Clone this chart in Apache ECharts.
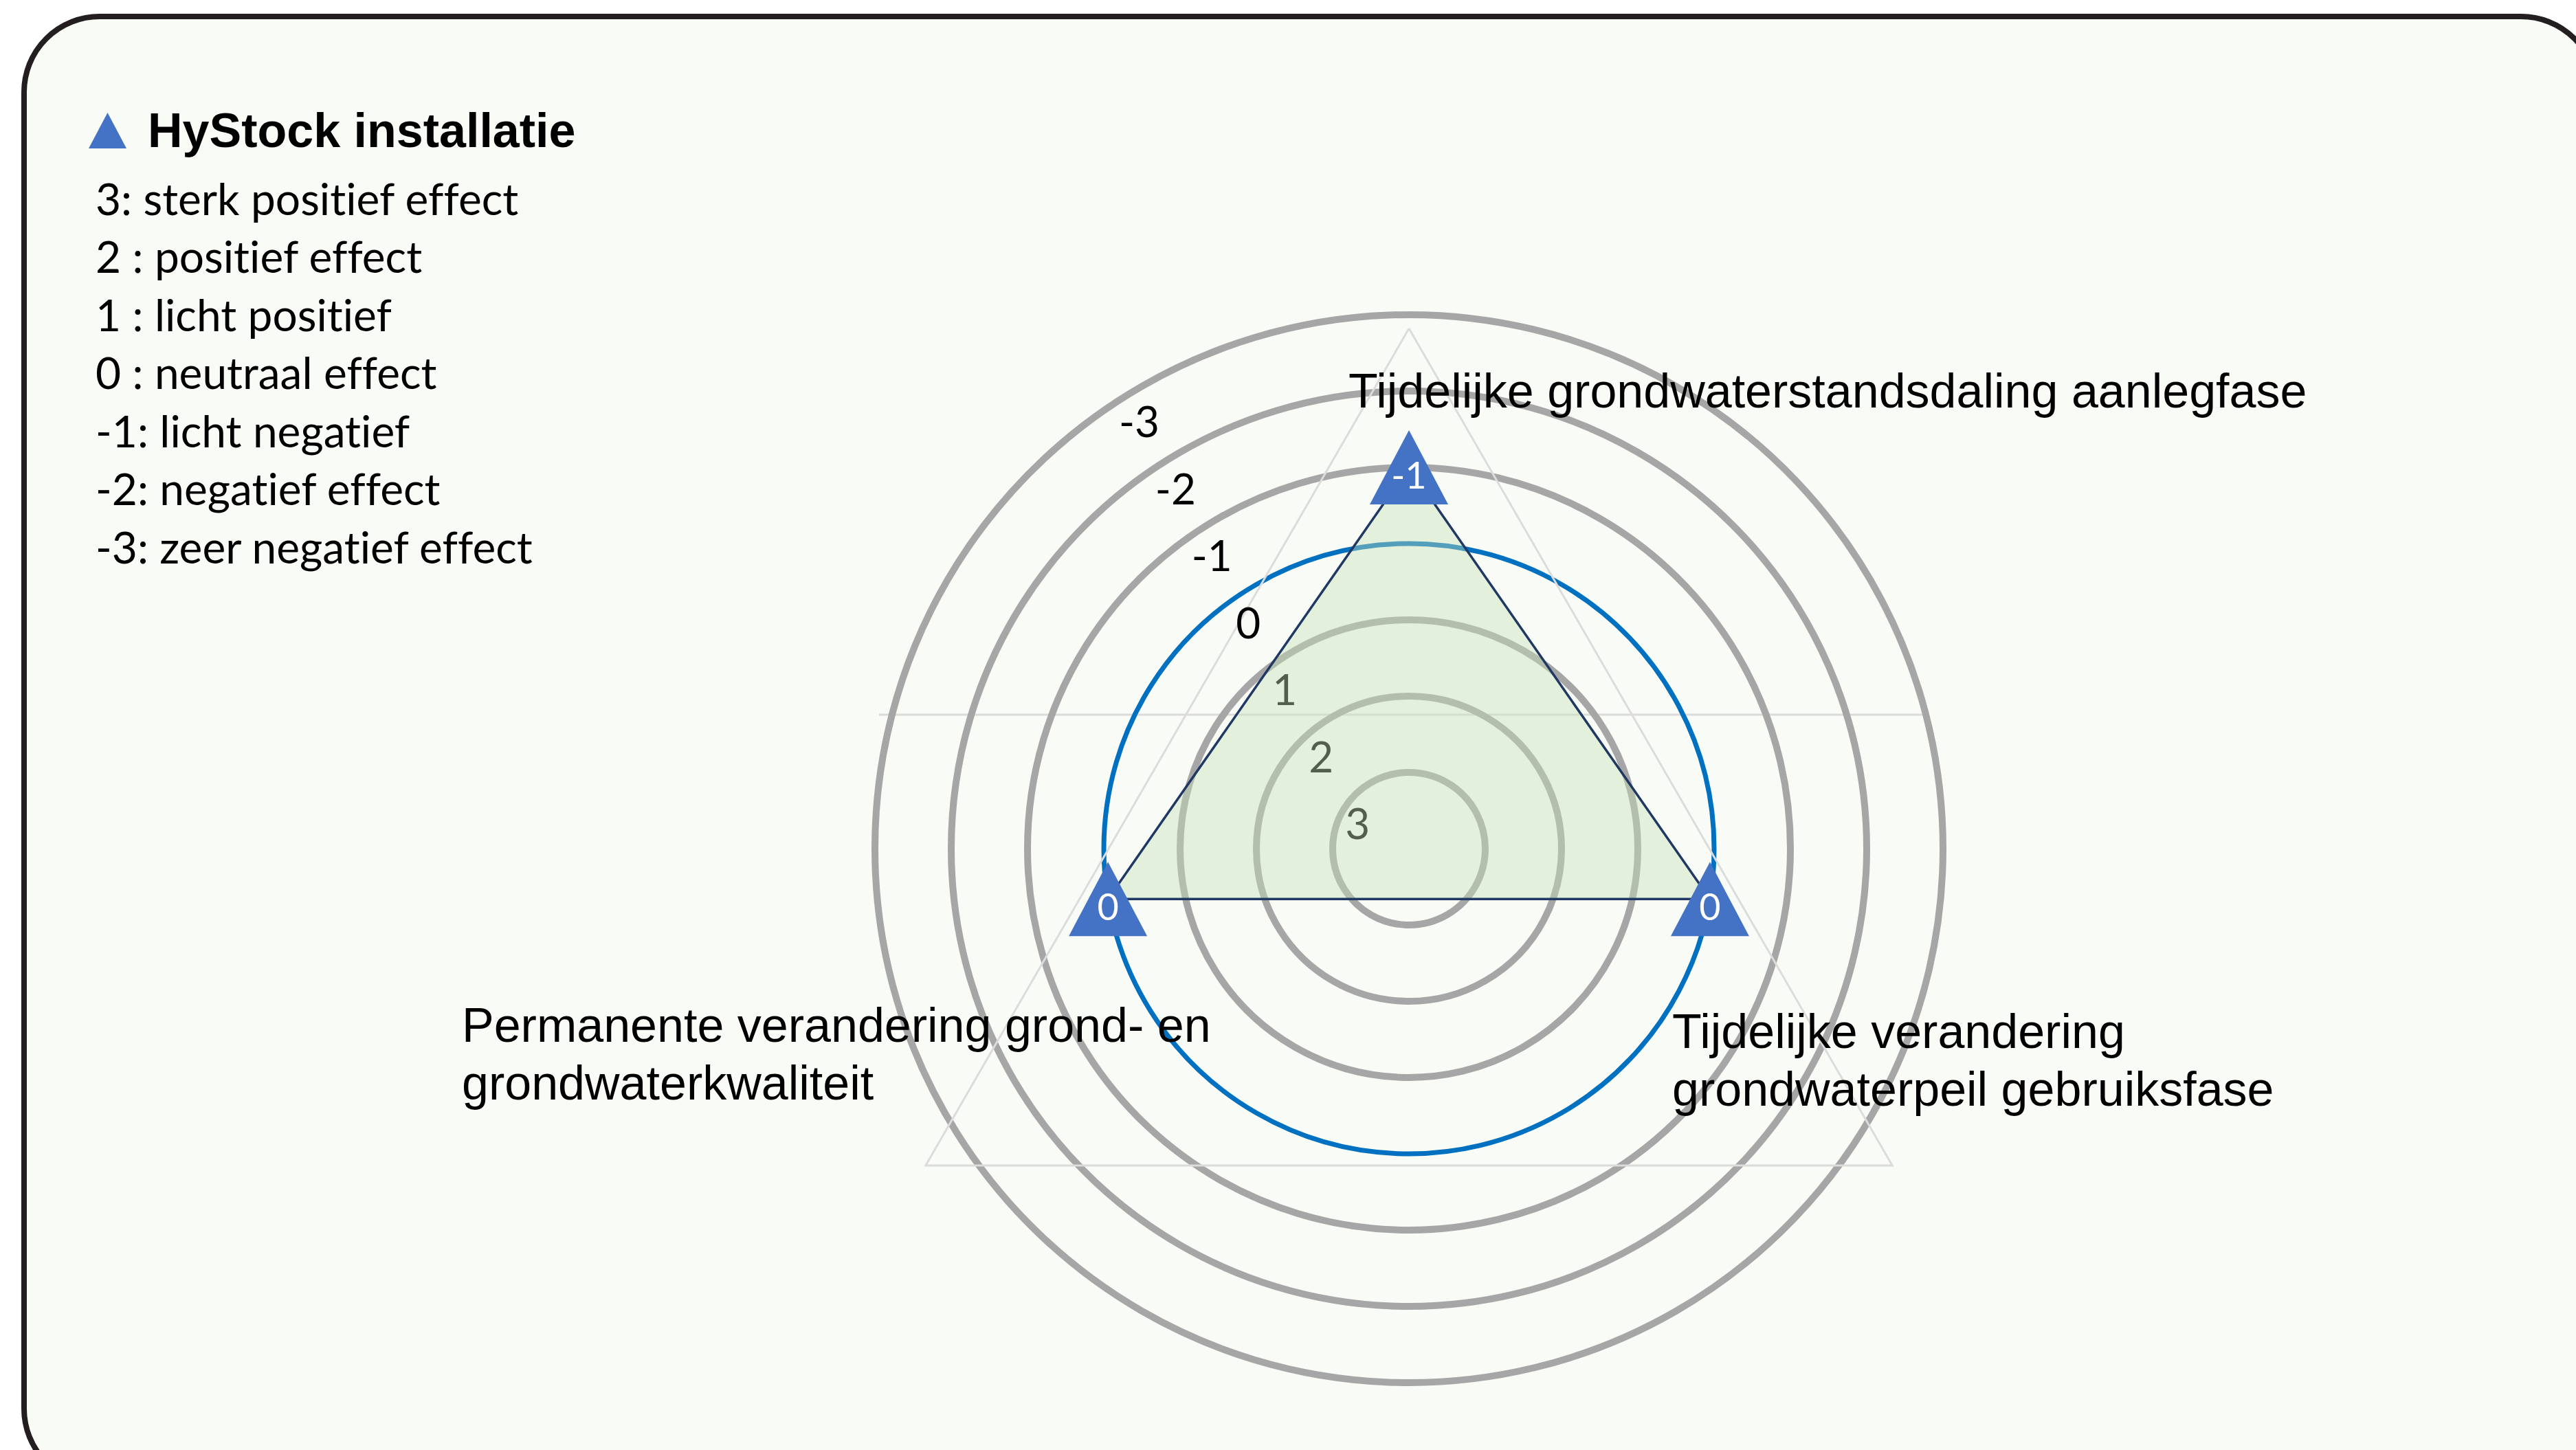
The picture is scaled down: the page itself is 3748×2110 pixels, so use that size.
<!DOCTYPE html>
<html>
<head>
<meta charset="utf-8">
<title>HyStock installatie</title>
<script src="https://cdn.jsdelivr.net/npm/echarts@6/dist/echarts.min.js"></script>
<style>
    html, body { margin: 0; padding: 0; background: #ffffff; }
    #chart { width: 3748px; height: 2110px; }
    /* Lato would otherwise join "ti" into a ligature */
    #chart text { font-variant-ligatures: none; }
</style>
</head>
<body>
<div id="chart"></div>
<script>
// effect categories, clockwise from the top
var categories = [
    'Tijdelijke grondwaterstandsdaling aanlegfase',
    'Tijdelijke verandering\ngrondwaterpeil gebruiksfase',
    'Permanente verandering grond- en\ngrondwaterkwaliteit'
];
var hystockValues = [-1, 0, 0];
var seriesName = 'HyStock installatie';
// ring labels, from the centre outwards
var ringLabels = ['3', '2', '1', '0', '-1', '-2', '-3'];
var scaleKey = [
    '3: sterk positief effect',
    '2 : positief effect',
    '1 : licht positief',
    '0 : neutraal effect',
    '-1: licht negatief',
    '-2: negatief effect',
    '-3: zeer negatief effect'
];

// layout
var center = [2050, 1235];
var ringRadius = 777;
var spokeAngles = [90, 350.5, 189.5]; // direction of each category spoke
var grey = '#a6a6a6';

var ringColors = ringLabels.concat(['']).map(function (_, i) {
    return i === 4 ? 'rgba(0,0,0,0)' : grey;   // ring "0" is drawn in blue by the value axis
});
var zeroRingColors = [-3, -2, -1, 0, 1, 2, 3, 4].map(function (v) {
    return v === 0 ? '#0070c0' : 'rgba(0,0,0,0)';
});

var points = hystockValues.map(function (v, i) {
    return [v, spokeAngles[i]];
});
// close the polygon
points.push({ value: points[0], symbol: 'none', label: { show: false } });

var labelFont = 'Lato, "Open Sans", sans-serif';
var nameStyle = {
    fontFamily: '"Liberation Sans", Arial, sans-serif',
    fontWeight: 'normal',
    fontSize: 70,
    lineHeight: 84,
    color: '#000'
};

var myChart = echarts.init(document.getElementById('chart'), null, { renderer: 'svg' });
var option = {
    backgroundColor: '#ffffff',
    animation: false,
    graphic: {
        elements: [
            {
                type: 'rect',
                z: -10,
                shape: { x: 35, y: 24, width: 3743, height: 2136, r: 110 },
                style: { fill: '#f9fbf7', stroke: '#231f20', lineWidth: 8 }
            },
            {
                // faint guide line behind the rings
                type: 'line',
                z: -9,
                shape: { x1: 1279, y1: 1040, x2: 2797, y2: 1040 },
                style: { stroke: '#dcdcdc', lineWidth: 3 }
            }
        ]
    },
    title: [
        {
            text: scaleKey.join('\n'),
            left: 139, top: 246, padding: 0,
            textStyle: { fontFamily: labelFont, fontWeight: 'normal', fontSize: 64, lineHeight: 84.5, color: '#000' }
        },
        { text: categories[0], left: 1962, top: 527, padding: 0, textStyle: nameStyle },
        { text: categories[1], left: 2433, top: 1459, padding: 0, textStyle: nameStyle },
        { text: categories[2], left: 672, top: 1450, padding: 0, textStyle: nameStyle }
    ],
    legend: {
        left: 129, top: 155, padding: 0,
        data: [{ name: seriesName, icon: 'triangle' }],
        itemWidth: 55, itemHeight: 52,
        itemStyle: { color: '#4472c4' },
        textStyle: {
            fontFamily: '"Liberation Sans", Arial, sans-serif',
            fontWeight: 'bold', fontSize: 70, color: '#000',
            padding: [0, 0, 0, 26]
        }
    },
    radar: {
        center: [2050, 1290],
        radius: 812,
        startAngle: 90,
        shape: 'polygon',
        splitNumber: 1,
        indicator: categories.map(function (c) { return { name: c, max: 1 }; }),
        axisName: { show: false },
        axisLine: { show: false },
        axisTick: { show: false },
        axisLabel: { show: false },
        splitArea: { show: false },
        splitLine: { lineStyle: { color: '#dcdcdc', width: 3 } }
    },
    polar: [
        { center: center, radius: ringRadius },
        { center: center, radius: ringRadius }
    ],
    angleAxis: [
        { polarIndex: 0, type: 'value', min: 0, max: 360, startAngle: 118.5, show: false },
        { polarIndex: 1, type: 'value', min: 0, max: 360, startAngle: 0, clockwise: false, show: false }
    ],
    radiusAxis: [
        {
            polarIndex: 0,
            type: 'category',
            data: ringLabels,
            boundaryGap: true,
            axisLine: { show: false },
            axisTick: { show: false },
            axisLabel: {
                interval: 0, margin: 55, align: 'center', verticalAlign: 'bottom',
                lineHeight: 30,
                fontFamily: labelFont, fontSize: 62, color: '#000'
            },
            splitLine: { show: true, interval: 0, lineStyle: { color: ringColors, width: 10 } }
        },
        {
            polarIndex: 1,
            type: 'value',
            min: -3, max: 4, interval: 1,
            inverse: true,
            axisLine: { show: false },
            axisTick: { show: false },
            axisLabel: { show: false },
            splitLine: { show: true, lineStyle: { color: zeroRingColors, width: 7 } }
        }
    ],
    series: [
        {
            name: seriesName,
            type: 'line',
            coordinateSystem: 'polar',
            polarIndex: 1,
            data: points,
            symbol: 'triangle',
            symbolSize: [114, 108],
            itemStyle: { color: '#4472c4' },
            lineStyle: { color: '#203864', width: 3.5 },
            areaStyle: { origin: 'end', color: 'rgba(197,224,180,0.6)' },
            label: {
                show: true,
                position: 'inside',
                offset: [0, 10],
                color: '#ffffff',
                fontFamily: labelFont,
                fontSize: 54,
                formatter: function (p) { return p.value[0]; }
            },
            z: 3
        }
    ]
};
myChart.setOption(option);
</script>
</body>
</html>
